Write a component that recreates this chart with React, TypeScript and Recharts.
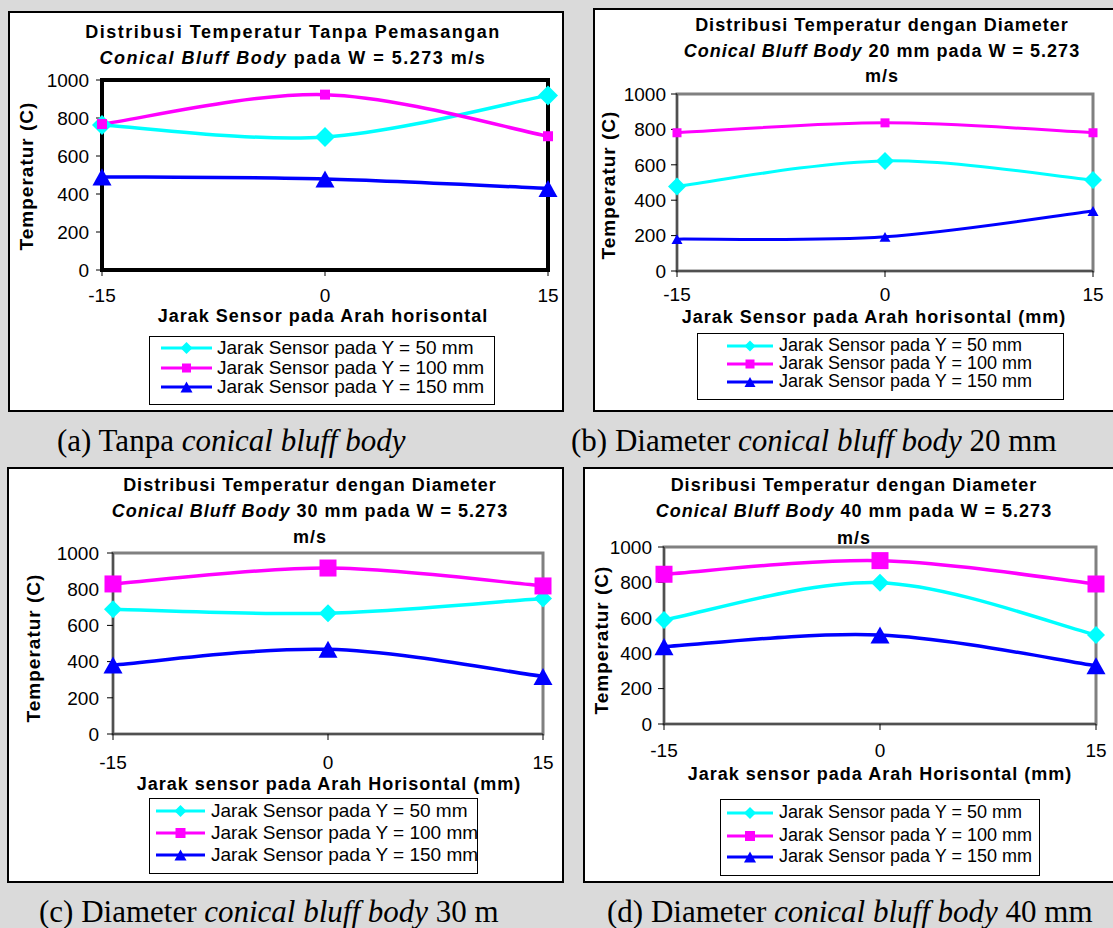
import React from 'react';
import { LineChart, Line, XAxis, YAxis, ReferenceArea, Legend } from 'recharts';

// sensor positions along the horizontal (mm)
const sensorX = [-15, 0, 15];
const yTicks = [0, 200, 400, 600, 800, 1000];

const seriesNames = [
  'Jarak Sensor pada Y = 50 mm',
  'Jarak Sensor pada Y = 100 mm',
  'Jarak Sensor pada Y = 150 mm',
];
const seriesColors = ['#00FFFF', '#FF00FF', '#0000FF'];
const seriesShapes = ['diamond', 'square', 'triangle'];

// (a) without bluff body
const tanpaY50 = [763, 700, 919];
const tanpaY100 = [768, 923, 704];
const tanpaY150 = [490, 479, 429];

// (b) bluff body 20 mm
const d20Y50 = [478, 622, 514];
const d20Y100 = [781, 837, 781];
const d20Y150 = [180, 193, 339];

// (c) bluff body 30 mm
const d30Y50 = [689, 667, 749];
const d30Y100 = [829, 917, 818];
const d30Y150 = [381, 468, 318];

// (d) bluff body 40 mm
const d40Y50 = [588, 798, 503];
const d40Y100 = [846, 923, 791];
const d40Y150 = [437, 503, 329];

const SANS = '"Liberation Sans", Arial, sans-serif';
const SERIF = '"Liberation Serif", "Times New Roman", serif';

type Seg = { t: string; i?: boolean };

const panels = [
  {
    id: 'a',
    values: [tanpaY50, tanpaY100, tanpaY150],
    title: [
      [{ t: 'Distribusi Temperatur Tanpa Pemasangan' }],
      [{ t: 'Conical Bluff Body', i: true }, { t: ' pada W = 5.273 m/s' }],
    ] as Seg[][],
    xTitle: 'Jarak Sensor pada Arah horisontal',
    caption: [{ t: '(a) Tanpa ' }, { t: 'conical bluff body', i: true }] as Seg[],
    box: { x: 8, y: 11, w: 556, h: 401 },
    plot: { x: 102, y: 80, w: 446, h: 190 },
    frame: '#000', frameW: 4, axis: '#000', axisW: 1,
    titleX: 293, titleY: [32, 58], titleSpacing: 1.5,
    xTitlePos: [323, 316], yTitlePos: [27, 176],
    yTickGap: 7, xTickGap: 13,
    legend: { x: 149, y: 336, w: 346, h: 69, icon: [161, 212], text: 217, rows: [348, 368, 387], font: 19 },
    marker: [20, 10, 19], markerLegend: [12, 9, 12], lineW: 3.5,
    captionPos: [57, 441],
  },
  {
    id: 'b',
    values: [d20Y50, d20Y100, d20Y150],
    title: [
      [{ t: 'Distribusi Temperatur dengan Diameter' }],
      [{ t: 'Conical Bluff Body', i: true }, { t: ' 20 mm pada W = 5.273' }],
      [{ t: 'm/s' }],
    ] as Seg[][],
    xTitle: 'Jarak Sensor pada Arah horisontal (mm)',
    caption: [{ t: '(b) Diameter ' }, { t: 'conical bluff body', i: true }, { t: ' 20 mm' }] as Seg[],
    box: { x: 593, y: 8, w: 540, h: 404 },
    plot: { x: 677, y: 94, w: 416, h: 177 },
    frame: '#808080', frameW: 3, axis: '#404040', axisW: 1.5,
    titleX: 882, titleY: [25, 51, 76], titleSpacing: 1,
    xTitlePos: [874, 317], yTitlePos: [609, 185],
    yTickGap: 5, xTickGap: 11,
    legend: { x: 697, y: 333, w: 367, h: 67, icon: [727, 773], text: 779, rows: [346, 364, 382], font: 18 },
    marker: [18, 9, 11], markerLegend: [11, 9, 11], lineW: 3,
    captionPos: [571, 441],
  },
  {
    id: 'c',
    values: [d30Y50, d30Y100, d30Y150],
    title: [
      [{ t: 'Distribusi Temperatur dengan Diameter' }],
      [{ t: 'Conical Bluff Body', i: true }, { t: ' 30 mm pada W = 5.273' }],
      [{ t: 'm/s' }],
    ] as Seg[][],
    xTitle: 'Jarak sensor pada Arah Horisontal (mm)',
    caption: [{ t: '(c) Diameter ' }, { t: 'conical bluff body', i: true }, { t: ' 30 m' }] as Seg[],
    box: { x: 7, y: 467, w: 557, h: 416 },
    plot: { x: 113, y: 553, w: 430, h: 181 },
    frame: '#808080', frameW: 3, axis: '#404040', axisW: 1.5,
    titleX: 310, titleY: [485, 511, 537], titleSpacing: 1,
    xTitlePos: [329, 784], yTitlePos: [34, 648],
    yTickGap: 8, xTickGap: 16,
    legend: { x: 149, y: 798, w: 329, h: 76, icon: [156, 205], text: 211, rows: [811, 833, 855], font: 19 },
    marker: [18, 17, 19], markerLegend: [12, 10, 12], lineW: 3.5,
    captionPos: [39, 912],
  },
  {
    id: 'd',
    values: [d40Y50, d40Y100, d40Y150],
    title: [
      [{ t: 'Disribusi Temperatur dengan Diameter' }],
      [{ t: 'Conical Bluff Body', i: true }, { t: ' 40 mm pada W = 5.273' }],
      [{ t: 'm/s' }],
    ] as Seg[][],
    xTitle: 'Jarak sensor pada Arah Horisontal (mm)',
    caption: [{ t: '(d) Diameter ' }, { t: 'conical bluff body', i: true }, { t: ' 40 mm' }] as Seg[],
    box: { x: 583, y: 467, w: 540, h: 416 },
    plot: { x: 664, y: 547, w: 432, h: 177 },
    frame: '#808080', frameW: 3, axis: '#404040', axisW: 1.5,
    titleX: 854, titleY: [485, 511, 538], titleSpacing: 1,
    xTitlePos: [880, 774], yTitlePos: [602, 640],
    yTickGap: 6, xTickGap: 14,
    legend: { x: 720, y: 799, w: 320, h: 77, icon: [727, 773], text: 779, rows: [813, 836, 857], font: 18 },
    marker: [18, 17, 19], markerLegend: [12, 10, 12], lineW: 3.5,
    captionPos: [607, 912],
  },
];

type Panel = (typeof panels)[number];

// Excel-style smoothed line: cubic Bezier through every point,
// tangents taken from the neighbouring points
const excelSmooth = (context: any) => {
  let pts: number[][] = [];
  return {
    areaStart() {},
    areaEnd() {},
    lineStart() {
      pts = [];
    },
    point(x: number, y: number) {
      pts.push([+x, +y]);
    },
    lineEnd() {
      if (!pts.length) return;
      context.moveTo(pts[0][0], pts[0][1]);
      for (let i = 0; i < pts.length - 1; i++) {
        const p0 = pts[Math.max(i - 1, 0)];
        const p1 = pts[i];
        const p2 = pts[i + 1];
        const p3 = pts[Math.min(i + 2, pts.length - 1)];
        context.bezierCurveTo(
          p1[0] + (p2[0] - p0[0]) / 6,
          p1[1] + (p2[1] - p0[1]) / 6,
          p2[0] - (p3[0] - p1[0]) / 6,
          p2[1] - (p3[1] - p1[1]) / 6,
          p2[0],
          p2[1]
        );
      }
    },
  };
};

const Marker = ({ cx, cy, shape, size, color }: any) => {
  const h = size / 2;
  if (shape === 'diamond') {
    return <polygon points={`${cx},${cy - h} ${cx + h},${cy} ${cx},${cy + h} ${cx - h},${cy}`} fill={color} />;
  }
  if (shape === 'square') {
    return <rect x={cx - h} y={cy - h} width={size} height={size} fill={color} />;
  }
  const th = size * 0.9;
  return (
    <polygon
      points={`${cx},${cy - th * 0.5} ${cx + h},${cy + th * 0.5} ${cx - h},${cy + th * 0.5}`}
      fill={color}
    />
  );
};

const Segs = ({ segs }: { segs: Seg[] }) => (
  <>
    {segs.map((s, i) => (
      <span key={i} style={{ fontStyle: s.i ? 'italic' : 'normal' }}>
        {s.t}
      </span>
    ))}
  </>
);

const YW = 20;
const XH = 20;

const ChartPanel = ({ p }: { p: Panel }) => {
  const { box, plot, legend: lg } = p;
  const rows = sensorX.map((x, i) => ({
    x,
    s0: p.values[0][i],
    s1: p.values[1][i],
    s2: p.values[2][i],
  }));

  const renderLegend = (props: any) => {
    const items = [...(props.payload || [])].sort(
      (a: any, b: any) => seriesNames.indexOf(a.value) - seriesNames.indexOf(b.value)
    );
    const iw = lg.icon[1] - lg.icon[0];
    return (
      <div
        style={{
          position: 'relative',
          width: lg.w,
          height: lg.h,
          border: '1px solid #000',
          background: '#fff',
          boxSizing: 'border-box',
        }}
      >
        {items.map((it: any, i: number) => {
          const s = seriesNames.indexOf(it.value);
          const cy = lg.rows[i] - lg.y - 1;
          return (
            <React.Fragment key={it.value}>
              <svg
                width={iw}
                height={16}
                style={{ position: 'absolute', left: lg.icon[0] - lg.x - 1, top: cy - 8 }}
              >
                <line x1={0} y1={8} x2={iw} y2={8} stroke={it.color} strokeWidth={3} />
                <Marker cx={iw / 2} cy={8} shape={seriesShapes[s]} size={p.markerLegend[s]} color={it.color} />
              </svg>
              <div
                style={{
                  position: 'absolute',
                  left: lg.text - lg.x - 1,
                  top: cy - lg.font * 0.6,
                  fontFamily: SANS,
                  fontSize: lg.font,
                  lineHeight: `${lg.font * 1.2}px`,
                  whiteSpace: 'nowrap',
                  color: '#000',
                }}
              >
                {it.value}
              </div>
            </React.Fragment>
          );
        })}
      </div>
    );
  };

  return (
    <>
      <div
        style={{
          position: 'absolute',
          left: box.x,
          top: box.y,
          width: box.w,
          height: box.h,
          background: '#fff',
          border: '2px solid #000',
          boxSizing: 'border-box',
        }}
      />
      {p.title.map((line, i) => (
        <div
          key={i}
          style={{
            position: 'absolute',
            left: p.titleX - 300,
            width: 600,
            top: p.titleY[i] - 11,
            lineHeight: '22px',
            textAlign: 'center',
            fontFamily: SANS,
            fontWeight: 700,
            fontSize: 18,
            letterSpacing: p.titleSpacing,
            whiteSpace: 'nowrap',
          }}
        >
          <Segs segs={line} />
        </div>
      ))}
      <div style={{ position: 'absolute', left: box.x, top: box.y }}>
        <LineChart
          width={box.w}
          height={box.h}
          data={rows}
          margin={{
            top: plot.y - box.y,
            left: plot.x - box.x - YW,
            right: box.x + box.w - plot.x - plot.w,
            bottom: box.y + box.h - plot.y - plot.h - XH,
          }}
        >
          <ReferenceArea
            x1={-15}
            x2={15}
            y1={0}
            y2={1000}
            fill="#fff"
            fillOpacity={0}
            stroke={p.frame}
            strokeWidth={p.frameW}
          />
          <XAxis
            type="number"
            dataKey="x"
            domain={[-15, 15]}
            ticks={sensorX}
            interval={0}
            height={XH}
            axisLine={{ stroke: p.axis, strokeWidth: p.axisW }}
            tickLine={{ stroke: '#000' }}
            tickSize={6}
            tickMargin={p.xTickGap}
            tick={{ fill: '#000', fontSize: 19, fontFamily: SANS }}
          />
          <YAxis
            type="number"
            domain={[0, 1000]}
            ticks={yTicks}
            interval={0}
            width={YW}
            axisLine={{ stroke: p.axis, strokeWidth: p.axisW }}
            tickLine={{ stroke: '#000' }}
            tickSize={6}
            tickMargin={p.yTickGap}
            tick={{ fill: '#000', fontSize: 19, fontFamily: SANS }}
          />
          {[0, 1, 2].map((s) => (
            <Line
              key={s}
              dataKey={`s${s}`}
              name={seriesNames[s]}
              stroke={seriesColors[s]}
              strokeWidth={p.lineW}
              type={excelSmooth as any}
              dot={(d: any) => (
                <Marker
                  key={`m${s}-${d.index}`}
                  cx={d.cx}
                  cy={d.cy}
                  shape={seriesShapes[s]}
                  size={p.marker[s]}
                  color={seriesColors[s]}
                />
              )}
              activeDot={false}
              isAnimationActive={false}
            />
          ))}
          <Legend
            layout="horizontal"
            verticalAlign="middle"
            align="center"
            content={renderLegend}
            wrapperStyle={{ left: lg.x - box.x, top: lg.y - box.y, width: lg.w, height: lg.h }}
          />
        </LineChart>
      </div>
      <div
        style={{
          position: 'absolute',
          left: p.yTitlePos[0],
          top: p.yTitlePos[1],
          transform: 'translate(-50%, -50%) rotate(-90deg)',
          fontFamily: SANS,
          fontWeight: 700,
          fontSize: 19,
          letterSpacing: 1,
          whiteSpace: 'nowrap',
        }}
      >
        Temperatur (C)
      </div>
      <div
        style={{
          position: 'absolute',
          left: p.xTitlePos[0],
          top: p.xTitlePos[1],
          transform: 'translate(-50%, -50%)',
          fontFamily: SANS,
          fontWeight: 700,
          fontSize: 18,
          letterSpacing: 1,
          whiteSpace: 'nowrap',
        }}
      >
        {p.xTitle}
      </div>
      <div
        style={{
          position: 'absolute',
          left: p.captionPos[0],
          top: p.captionPos[1] - 18,
          lineHeight: '36px',
          fontFamily: SERIF,
          fontSize: 31,
          whiteSpace: 'nowrap',
          color: '#000',
        }}
      >
        <Segs segs={p.caption} />
      </div>
    </>
  );
};

export default function App() {
  return (
    <div
      style={{
        position: 'absolute',
        left: 0,
        top: 0,
        width: 1113,
        height: 928,
        overflow: 'hidden',
        background: '#dadada',
      }}
    >
      {panels.map((p) => (
        <ChartPanel key={p.id} p={p} />
      ))}
    </div>
  );
}
